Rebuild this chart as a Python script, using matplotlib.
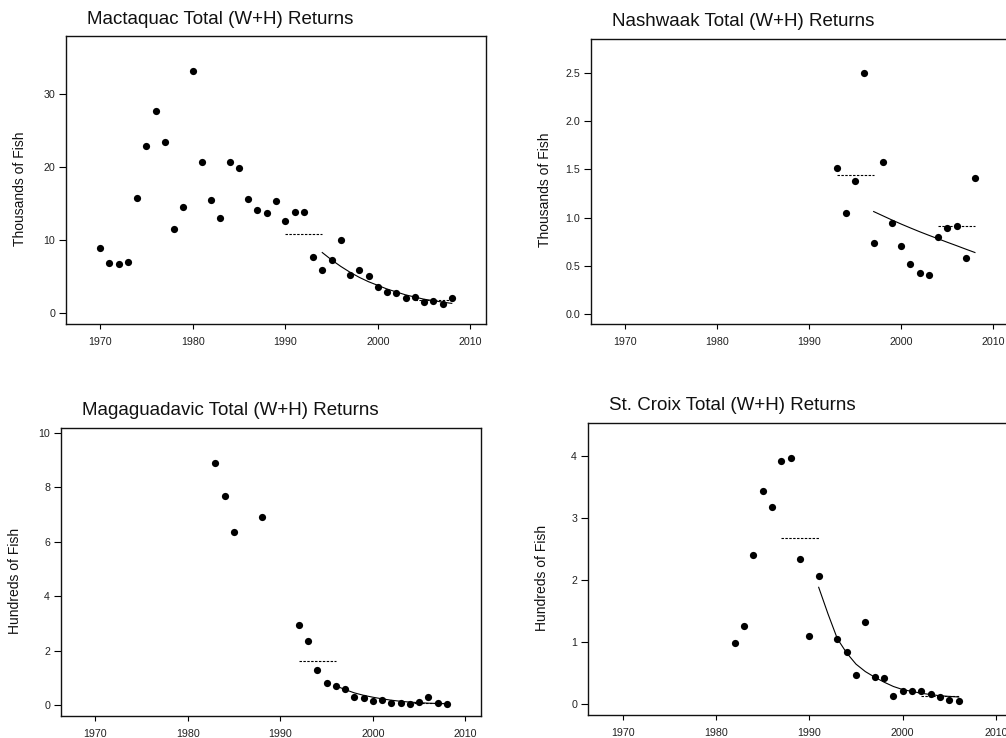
import matplotlib
matplotlib.use('Agg')
import matplotlib.pyplot as plt

plt.rcParams['font.family'] = ['Liberation Sans', 'DejaVu Sans']

# Mactaquac (thousands of fish)
mact_years = list(range(1970, 2009))
mact_vals = [8.87, 6.86, 6.68, 7.04, 15.82, 22.9, 27.7, 23.4, 11.48, 14.59,
             33.2, 20.76, 15.5, 12.99, 20.67, 19.84, 15.68, 14.08, 13.72, 15.36,
             12.67, 13.85, 13.81, 7.73, 5.9, 7.32, 10.01, 5.21, 5.94, 5.08,
             3.61, 2.88, 2.74, 2.06, 2.24, 1.51, 1.69, 1.23, 2.06]
mact_fit_years = list(range(1994, 2009))
mact_fit = [8.3, 7.3, 6.4, 5.6, 4.9, 4.3, 3.8, 3.3, 2.9, 2.5, 2.2, 1.9, 1.7, 1.5, 1.33]
mact_means = [(1990, 1994, 10.8), (2004, 2008, 1.75)]

# Nashwaak (thousands of fish)
nash_years = list(range(1993, 2009))
nash_vals = [1.516, 1.053, 1.381, 2.493, 0.739, 1.578, 0.946, 0.704,
             0.518, 0.428, 0.411, 0.801, 0.898, 0.915, 0.580, 1.416]
nash_fit_years = list(range(1997, 2009))
nash_fit = [1.064, 1.02, 0.976, 0.934, 0.894, 0.855, 0.818, 0.782, 0.746, 0.711, 0.675, 0.640]
nash_means = [(1993, 1997, 1.44), (2004, 2008, 0.918)]

# Magaguadavic (hundreds of fish)
maga_years = [1983, 1984, 1985, 1988, 1992, 1993, 1994, 1995, 1996, 1997, 1998,
              1999, 2000, 2001, 2002, 2003, 2004, 2005, 2006, 2007, 2008]
maga_vals = [8.90, 7.68, 6.36, 6.91, 2.96, 2.38, 1.31, 0.81, 0.71, 0.61, 0.32,
             0.26, 0.16, 0.20, 0.10, 0.09, 0.05, 0.12, 0.29, 0.07, 0.06]
maga_fit_years = list(range(1996, 2009))
maga_fit = [0.72, 0.58, 0.46, 0.37, 0.30, 0.24, 0.19, 0.15, 0.12, 0.10, 0.08, 0.07, 0.06]
maga_means = [(1992, 1996, 1.63), (2004, 2008, 0.10)]

# St. Croix (hundreds of fish)
stc_years = [1982, 1983, 1984, 1985, 1986, 1987, 1988, 1989, 1990, 1991, 1993,
             1994, 1995, 1996, 1997, 1998, 1999, 2000, 2001, 2002, 2003, 2004,
             2005, 2006]
stc_vals = [0.98, 1.25, 2.40, 3.44, 3.18, 3.92, 3.96, 2.33, 1.09, 2.07, 1.04,
            0.84, 0.47, 1.32, 0.44, 0.41, 0.13, 0.20, 0.20, 0.20, 0.16, 0.11,
            0.06, 0.04]
stc_fit_years = list(range(1991, 2007))
stc_fit = [1.88, 1.45, 1.05, 0.82, 0.64, 0.52, 0.43, 0.35, 0.28, 0.23, 0.20,
           0.17, 0.15, 0.13, 0.12, 0.11]
stc_means = [(1987, 1991, 2.67), (2002, 2006, 0.12)]

W, H = 1006, 738
fig = plt.figure(figsize=(W / 100, H / 100), dpi=100)


def px_axes(left, top, right, bottom):
    return fig.add_axes([left / W, 1 - bottom / H, (right - left) / W, (bottom - top) / H])


panels = [
    ((66, 36, 486, 324), "Mactaquac Total (W+H) Returns", "Thousands of Fish",
     mact_years, mact_vals, mact_fit_years, mact_fit, mact_means,
     (-1.5, 38.0), [0, 10, 20, 30], ["0", "10", "20", "30"]),
    ((591, 39, 1009, 324), "Nashwaak Total (W+H) Returns", "Thousands of Fish",
     nash_years, nash_vals, nash_fit_years, nash_fit, nash_means,
     (-0.10, 2.85), [0, 0.5, 1.0, 1.5, 2.0, 2.5], ["0.0", "0.5", "1.0", "1.5", "2.0", "2.5"]),
    ((61, 428, 481, 716), "Magaguadavic Total (W+H) Returns", "Hundreds of Fish",
     maga_years, maga_vals, maga_fit_years, maga_fit, maga_means,
     (-0.39, 10.18), [0, 2, 4, 6, 8, 10], ["0", "2", "4", "6", "8", "10"]),
    ((588, 423, 1012, 715), "St. Croix Total (W+H) Returns", "Hundreds of Fish",
     stc_years, stc_vals, stc_fit_years, stc_fit, stc_means,
     (-0.18, 4.53), [0, 1, 2, 3, 4], ["0", "1", "2", "3", "4"]),
]

for box, title, ylab, yrs, vals, fyrs, fit, means, ylim, yt, ytl in panels:
    ax = px_axes(*box)
    ax.plot(yrs, vals, 'o', color='black', markersize=5.2, markeredgewidth=0)
    ax.plot(fyrs, fit, '-', color='black', linewidth=0.8)
    for x0, x1, m in means:
        ax.plot([x0, x1], [m, m], color='black', linewidth=0.8, dashes=(2.2, 1.3))
    ax.set_xlim(1966.3, 2011.7)
    ax.set_ylim(*ylim)
    ax.set_xticks([1970, 1980, 1990, 2000, 2010])
    ax.set_yticks(yt)
    ax.set_yticklabels(ytl)
    ax.tick_params(axis='x', direction='out', length=3.6, width=0.8, pad=6,
                   labelsize=7.7, labelcolor='#222222')
    ax.tick_params(axis='y', direction='out', length=4.8, width=0.8, pad=3,
                   labelsize=7.7, labelcolor='#222222')
    for sp in ax.spines.values():
        sp.set_linewidth(1.0)
        sp.set_color('#111111')
    ax.set_ylabel(ylab, fontsize=10, color='#111111')
    ax.yaxis.set_label_coords(-39 / (box[2] - box[0]), 0.47)
    ax.annotate(title, xy=(0, 1), xycoords='axes fraction', xytext=(21 * 0.72, 17 * 0.72),
                textcoords='offset points', ha='left', va='center', fontsize=13.5, color='#111111')

fig.savefig('out.png', dpi=100)
